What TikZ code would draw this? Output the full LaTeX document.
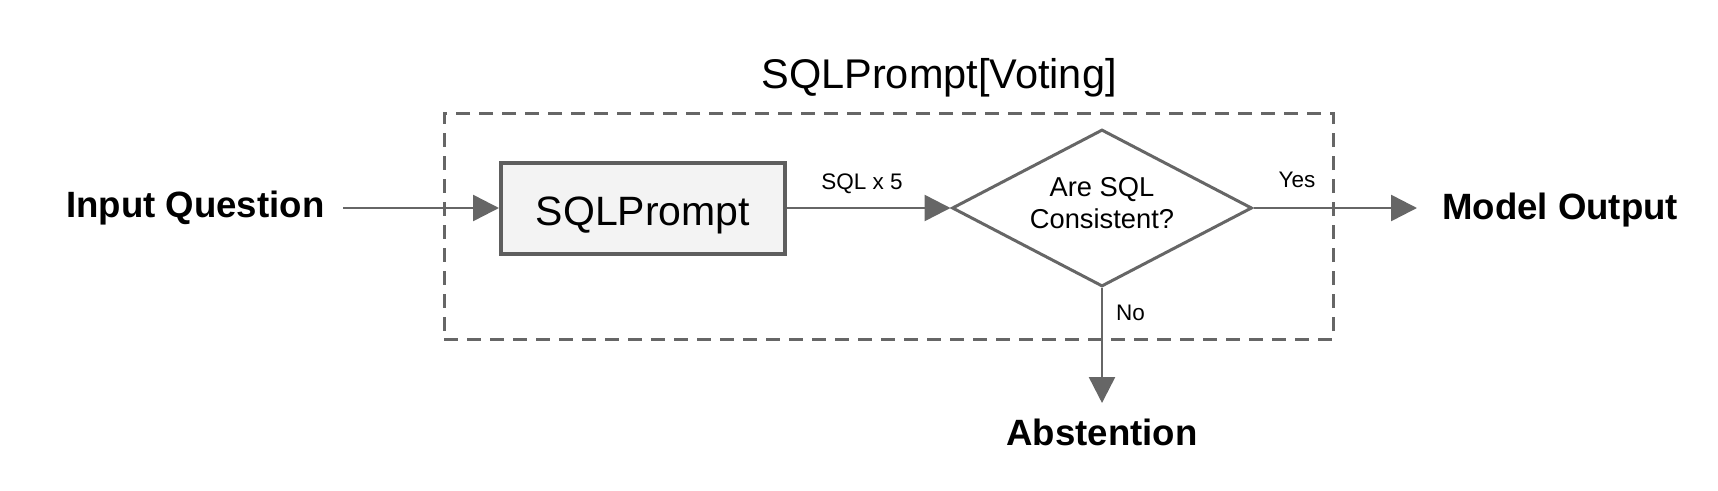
\documentclass[tikz,border=0pt]{standalone}
\usepackage{fontspec}
\setmainfont{Liberation Sans}
\usetikzlibrary{arrows.meta,shapes.geometric}
\definecolor{lc}{HTML}{666666}
\definecolor{bc}{HTML}{5E5E5E}
\definecolor{bf}{HTML}{F3F3F3}
\begin{document}
\begin{tikzpicture}[x=1pt,y=-1pt,
  arr/.style={draw=lc,line width=2.5pt,-{Triangle[length=26pt,width=26pt]}},
  frame/.style={draw=lc,line width=3pt,dash pattern=on 14pt off 9pt,minimum width=889pt,minimum height=226pt,inner sep=0pt},
  procbox/.style={draw=bc,fill=bf,line width=4pt,minimum width=284pt,minimum height=91pt,inner sep=0pt},
  decision/.style={diamond,draw=lc,line width=3pt,minimum width=300pt,minimum height=157pt,inner sep=0pt},
  big/.style={font=\fontsize{36.6}{44}\selectfont\bfseries,inner sep=0pt},
  small/.style={font=\fontsize{22.5}{27}\selectfont,inner sep=0pt}]
\useasboundingbox (0,0) rectangle (1718,490);
\node[frame] (frm) at (888.5,226) {};
\node[inner sep=0pt,anchor=base,font=\fontsize{41.5}{50}\selectfont] (title) at (939,88) {SQLPrompt[Voting]};
\node[procbox] (sp) at (643,208) {};
\node[inner sep=0pt,anchor=base,font=\fontsize{41}{49}\selectfont] (spt) at (643,225) {SQLPrompt};
\node[decision] (dec) at (1102,208) {};
\node[inner sep=0pt,align=center,anchor=base,font=\fontsize{27.3}{32}\selectfont] (dect) at (1102,228) {Are SQL\\Consistent?};
\node[big,anchor=base west] (inq) at (66,217) {Input Question};
\node[big,anchor=base west] (mo) at (1442,219) {Model Output};
\node[big,anchor=base] (abs) at (1102,445) {Abstention};
\coordinate (inS) at (343,208);
\coordinate (outE) at (1417,208);
\coordinate (absE) at (1102,403);
\draw[arr] (inS) -- (sp.west);
\draw[arr] (sp.east) -- (dec.west);
\draw[arr] (dec.east) -- (outE);
\draw[arr] (dec.south) -- (absE);
\node[small,anchor=base] (l5) at (862,189) {SQL x 5};
\node[small,anchor=base] (lyes) at (1297,187) {Yes};
\node[small,anchor=base west] (lno) at (1116,320) {No};
\end{tikzpicture}
\end{document}
